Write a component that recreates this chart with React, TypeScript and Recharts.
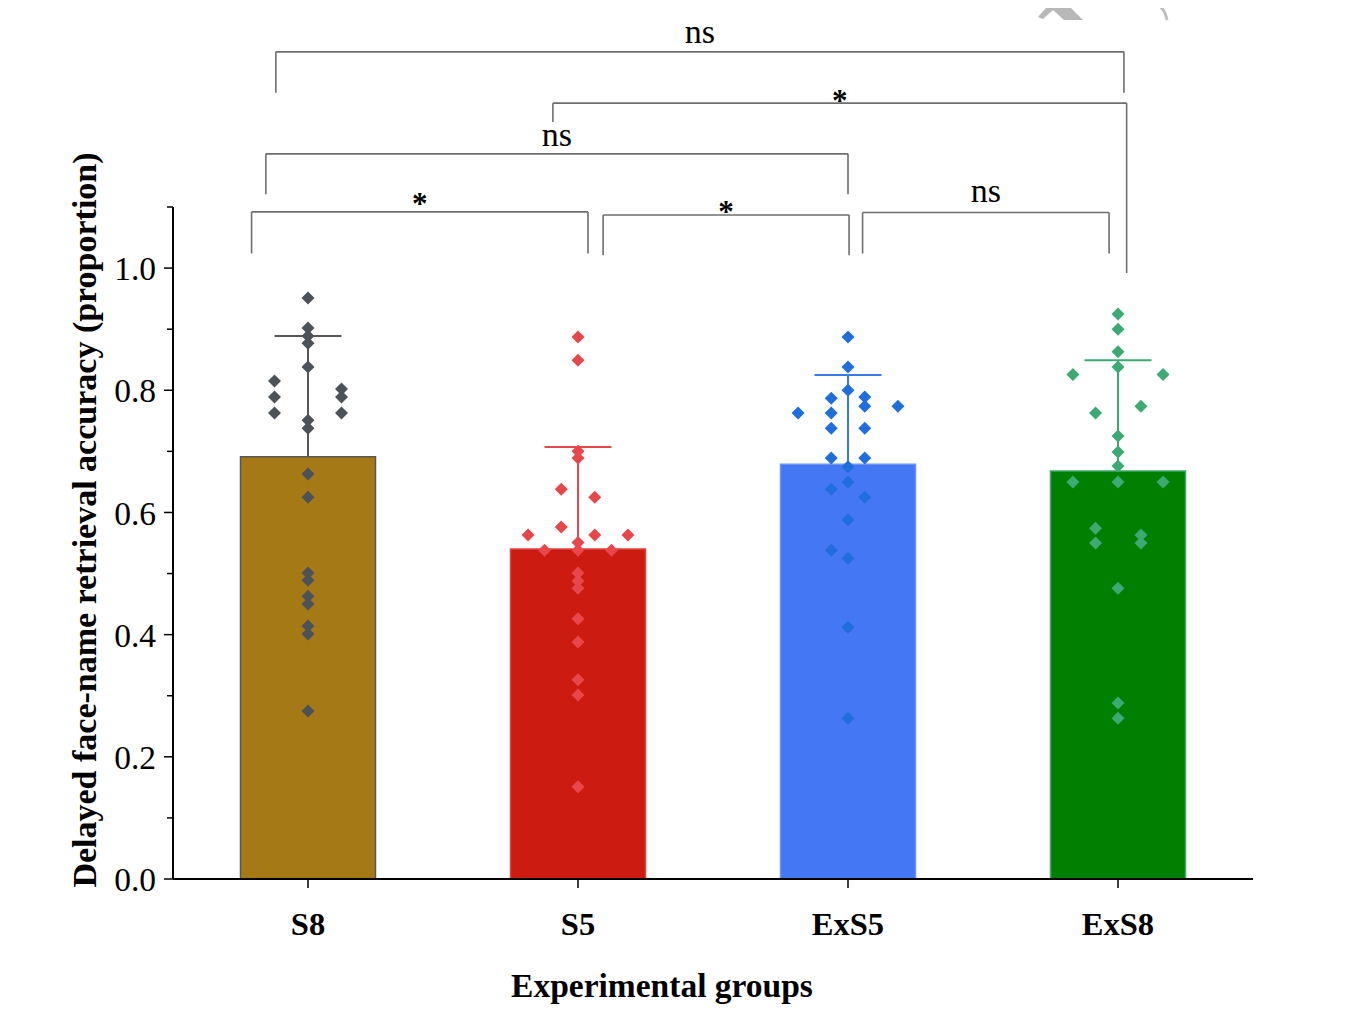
import React from 'react';
import {
  ComposedChart,
  Bar,
  Cell,
  XAxis,
  YAxis,
  Scatter,
  ReferenceLine,
  ReferenceDot,
} from 'recharts';

// ---------- data ----------
const groups = ['S8', 'S5', 'ExS5', 'ExS8'];
const means = [0.691, 0.54, 0.679, 0.668];
const sds = [0.198, 0.167, 0.146, 0.181];

// individual points: [value, horizontal jitter in category units]
const s8Points: [number, number][] = [
  [0.951, 0], [0.902, 0], [0.889, 0], [0.877, 0], [0.838, 0], [0.751, 0], [0.738, 0],
  [0.663, 0], [0.625, 0], [0.501, 0], [0.489, 0], [0.463, 0], [0.45, 0], [0.414, 0],
  [0.401, 0], [0.275, 0],
  [0.815, -0.124], [0.789, -0.124], [0.763, -0.124],
  [0.802, 0.124], [0.789, 0.124], [0.763, 0.124],
];
const s5Points: [number, number][] = [
  [0.887, 0], [0.849, 0], [0.7, 0], [0.689, 0], [0.638, -0.062], [0.625, 0.062],
  [0.576, -0.062], [0.563, -0.185], [0.563, 0.062], [0.563, 0.185], [0.551, 0],
  [0.538, -0.124], [0.538, 0], [0.538, 0.124], [0.501, 0], [0.488, 0], [0.476, 0],
  [0.426, 0], [0.388, 0], [0.326, 0], [0.301, 0], [0.151, 0],
];
const exS5Points: [number, number][] = [
  [0.887, 0], [0.838, 0], [0.8, 0], [0.675, 0], [0.65, 0], [0.588, 0], [0.525, 0],
  [0.412, 0], [0.263, 0],
  [0.787, -0.062], [0.763, -0.062], [0.738, -0.062], [0.689, -0.062], [0.638, -0.062], [0.538, -0.062],
  [0.789, 0.062], [0.774, 0.062], [0.738, 0.062], [0.689, 0.062], [0.625, 0.062],
  [0.763, -0.185], [0.774, 0.185],
];
const exS8Points: [number, number][] = [
  [0.925, 0], [0.9, 0], [0.863, 0], [0.838, 0], [0.725, 0], [0.699, 0], [0.676, 0],
  [0.65, 0], [0.476, 0], [0.288, 0], [0.263, 0],
  [0.826, -0.167], [0.65, -0.167], [0.826, 0.167], [0.65, 0.167],
  [0.763, -0.083], [0.574, -0.083], [0.55, -0.083],
  [0.774, 0.085], [0.563, 0.085], [0.55, 0.085],
];
const pointSets = [s8Points, s5Points, exS5Points, exS8Points];

const yMajorTicks = [0, 0.2, 0.4, 0.6, 0.8, 1.0];
const yMinorTicks = [0.1, 0.3, 0.5, 0.7, 0.9, 1.1];

// significance brackets (group-index units, y in axis units)
const brackets = [
  { x1: -0.119, x2: 3.022, y: 1.354, leg1: 1.287, leg2: 1.287, label: 'ns', dy: -9 },
  { x1: 0.907, x2: 3.032, y: 1.27, leg1: 1.239, leg2: 0.992, label: '*', dy: 8 },
  { x1: -0.156, x2: 2.0, y: 1.187, leg1: 1.121, leg2: 1.121, label: 'ns', dy: -8 },
  { x1: -0.209, x2: 1.037, y: 1.092, leg1: 1.024, leg2: 1.024, label: '*', dy: 2 },
  { x1: 1.093, x2: 2.004, y: 1.087, leg1: 1.021, leg2: 1.021, label: '*', dy: 7 },
  { x1: 2.054, x2: 2.967, y: 1.091, leg1: 1.024, leg2: 1.024, label: 'ns', dy: -10 },
];

// ---------- styles ----------
const barFills = ['#A57A16', '#CC1B10', '#4477F4', '#007F00'];
const barStrokes = ['#575757', '#E0453E', '#6A95F8', '#3DAA6A'];
const pointColors = ['#4C5259', '#E8474A', '#1F6EDD', '#3CAA72'];
const errColors = ['#575757', '#E8474A', '#3A7BE3', '#3CAA72'];
const FONT = '"Liberation Serif", "Times New Roman", Times, serif';
const CAP_HALF = 0.124;

const barData = groups.map((g, i) => ({ group: g, mean: means[i] }));
const yTicks = [...yMajorTicks, ...yMinorTicks].sort((a, b) => a - b);

const makeDiamond = (color: string) => (props: any) => {
  const { cx, cy } = props;
  if (cx == null || cy == null) return <g />;
  const r = 6.5;
  return (
    <polygon
      points={`${cx},${cy - r} ${cx + r},${cy} ${cx},${cy + r} ${cx - r},${cy}`}
      fill={color}
    />
  );
};

const YTick = (props: any) => {
  const { x, y, payload } = props;
  const v = payload.value;
  const major = yMajorTicks.some((t) => Math.abs(t - v) < 1e-6);
  return (
    <g>
      <line x1={x - (major ? 9 : 6)} x2={x} y1={y} y2={y} stroke="#000" strokeWidth={1.5} />
      {major && (
        <text x={x - 17} y={y} dy="0.36em" textAnchor="end" fontFamily={FONT} fontSize={33.5} fill="#000">
          {v.toFixed(1)}
        </text>
      )}
    </g>
  );
};

const XTick = (props: any) => {
  const { x, y, payload } = props;
  return (
    <g>
      <line x1={x} x2={x} y1={y} y2={y + 9} stroke="#000" strokeWidth={1.5} />
      <text x={x} y={y + 56} textAnchor="middle" fontFamily={FONT} fontWeight="bold" fontSize={32.5} fill="#000">
        {payload.value}
      </text>
    </g>
  );
};

const YTitle = (props: any) => {
  const vb = props.viewBox || { x: 65, y: 199, width: 100, height: 672 };
  const x = vb.x + 23;
  const y = vb.y + vb.height / 2 - 23;
  return (
    <text
      x={x}
      y={y}
      transform={`rotate(-90, ${x}, ${y})`}
      textAnchor="middle"
      fontFamily={FONT}
      fontWeight="bold"
      fontSize={34}
      fill="#000"
    >
      Delayed face-name retrieval accuracy (proportion)
    </text>
  );
};

const XTitle = (props: any) => {
  const vb = props.viewBox || { x: 165, y: 871, width: 1080, height: 60 };
  return (
    <text
      x={vb.x + vb.width / 2 - 51}
      y={vb.y + 118}
      textAnchor="middle"
      fontFamily={FONT}
      fontWeight="bold"
      fontSize={33.5}
      fill="#000"
    >
      Experimental groups
    </text>
  );
};

export default function App() {
  return (
    <div style={{ width: 1344, height: 1014, position: 'relative' }}>
      <svg
        width={1360}
        height={40}
        style={{ position: 'absolute', left: -8, top: -8, pointerEvents: 'none' }}
      >
        <polygon
          points="1038,17 1053,0 1063,0 1083,20 1064,20 1053,10 1043,19"
          fill="#B8B8B8"
        />
        <path d="M1150,0 Q1165,6 1167,20" stroke="#BDBDBD" strokeWidth={3} fill="none" />
        <path d="M1194,0 L1201,0 L1198,3 Z" fill="#C8C8C8" />
      </svg>
      <ComposedChart
        width={1344}
        height={1014}
        data={barData}
        margin={{ top: 199, right: 99, bottom: 83, left: 65 }}
        barCategoryGap="25%"
      >
        <XAxis
          xAxisId="cat"
          dataKey="group"
          type="category"
          interval={0}
          height={60}
          tickLine={false}
          tickSize={0}
          tickMargin={0}
          axisLine={{ stroke: '#000', strokeWidth: 2 }}
          tick={XTick}
          label={XTitle}
        />
        <XAxis
          xAxisId="num"
          dataKey="x"
          type="number"
          domain={[-0.5, 3.5]}
          ticks={[0, 1, 2, 3]}
          hide
        />
        <YAxis
          type="number"
          domain={[0, 1.1]}
          ticks={yTicks}
          interval={0}
          width={100}
          tickLine={false}
          tickSize={0}
          tickMargin={0}
          axisLine={{ stroke: '#000', strokeWidth: 2 }}
          tick={YTick}
          label={YTitle}
        />
        <Bar xAxisId="cat" dataKey="mean" isAnimationActive={false}>
          {groups.map((g, i) => (
            <Cell key={g} fill={barFills[i]} stroke={barStrokes[i]} strokeWidth={1.5} />
          ))}
        </Bar>
        {groups.map((g, i) => (
          <ReferenceLine
            key={'ev' + g}
            xAxisId="num"
            ifOverflow="visible"
            segment={[
              { x: i, y: means[i] },
              { x: i, y: means[i] + sds[i] },
            ]}
            stroke={errColors[i]}
            strokeWidth={2}
          />
        ))}
        {groups.map((g, i) => (
          <ReferenceLine
            key={'ec' + g}
            xAxisId="num"
            ifOverflow="visible"
            segment={[
              { x: i - CAP_HALF, y: means[i] + sds[i] },
              { x: i + CAP_HALF, y: means[i] + sds[i] },
            ]}
            stroke={errColors[i]}
            strokeWidth={2}
          />
        ))}
        {pointSets.map((pts, i) => (
          <Scatter
            key={'sc' + i}
            xAxisId="num"
            dataKey="y"
            data={pts.map(([v, j]) => ({ x: i + j, y: v }))}
            fill={pointColors[i]}
            shape={makeDiamond(pointColors[i])}
            isAnimationActive={false}
          />
        ))}
        {brackets.map((b, k) => (
          <ReferenceLine
            key={'bh' + k}
            xAxisId="num"
            ifOverflow="visible"
            segment={[
              { x: b.x1, y: b.y },
              { x: b.x2, y: b.y },
            ]}
            stroke="#6E6E6E"
            strokeWidth={1.6}
          />
        ))}
        {brackets.map((b, k) => (
          <ReferenceLine
            key={'bl' + k}
            xAxisId="num"
            ifOverflow="visible"
            segment={[
              { x: b.x1, y: b.y },
              { x: b.x1, y: b.leg1 },
            ]}
            stroke="#6E6E6E"
            strokeWidth={1.6}
          />
        ))}
        {brackets.map((b, k) => (
          <ReferenceLine
            key={'br' + k}
            xAxisId="num"
            ifOverflow="visible"
            segment={[
              { x: b.x2, y: b.y },
              { x: b.x2, y: b.leg2 },
            ]}
            stroke="#6E6E6E"
            strokeWidth={1.6}
          />
        ))}
        {brackets.map((b, k) => (
          <ReferenceDot
            key={'bt' + k}
            xAxisId="num"
            x={(b.x1 + b.x2) / 2}
            y={b.y}
            r={0}
            fill="none"
            stroke="none"
            ifOverflow="visible"
            label={(p: any) => {
              const vb = p.viewBox || { x: 0, y: 0 };
              const star = b.label === '*';
              return (
                <text
                  x={vb.x + (vb.width || 0) / 2}
                  y={vb.y + (vb.height || 0) / 2 + b.dy}
                  textAnchor="middle"
                  fontFamily={FONT}
                  fontSize={star ? 31 : 34}
                  fontWeight={star ? 'bold' : 'normal'}
                  fill="#000"
                >
                  {b.label}
                </text>
              );
            }}
          />
        ))}
      </ComposedChart>
    </div>
  );
}
